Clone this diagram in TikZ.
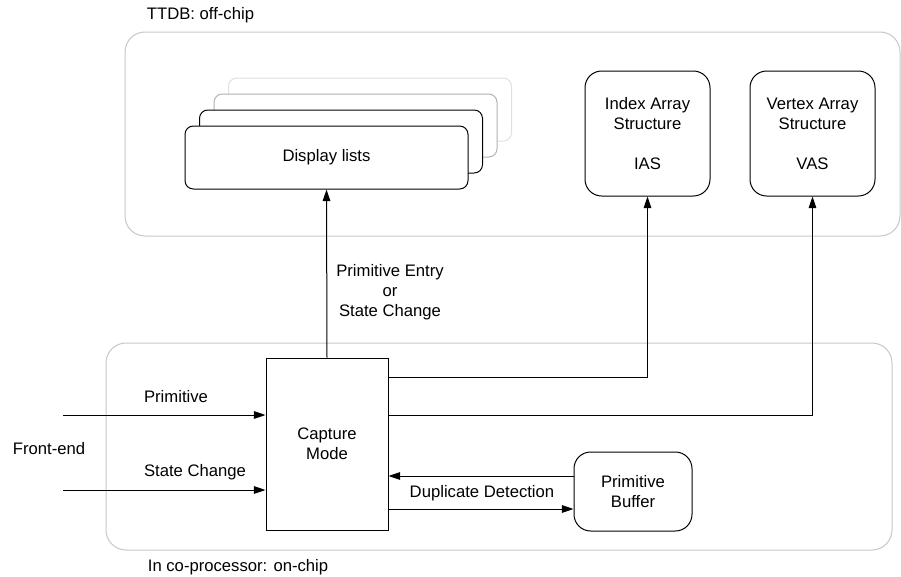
\documentclass[tikz,border=0pt]{standalone}
\usepackage{fontspec}
\setmainfont{Liberation Sans}
\usetikzlibrary{arrows.meta}

\begin{document}
\begin{tikzpicture}[x=0.6pt,y=-0.6pt,font=\fontsize{10}{12}\selectfont,
  lane/.style={draw=black!22,line width=0.6pt,rounded corners=12pt},
  dlist/.style={draw,fill=white,line width=0.6pt,rounded corners=5pt,minimum width=283*0.6pt,minimum height=63*0.6pt,inner sep=0pt},
  store/.style={draw,line width=0.6pt,rounded corners=10pt,minimum width=125*0.6pt,minimum height=125*0.6pt,align=center,inner sep=0pt},
  flow/.style={line width=0.6pt,-{Triangle[length=7pt,width=4.6pt]}},
  wire/.style={line width=0.6pt}]
\useasboundingbox (0,0) rectangle (901,577);

\def\dx{14.5}
\def\dy{-16}

% containers
\draw[lane] (125,32) rectangle (900,236);
\draw[lane] (106,343) rectangle (892,550);
\node[anchor=west] (offchip) at (141,15) {TTDB: off-chip};
\node[anchor=west] (onchip) at (142,567) {In co-processor: on-chip};

% display lists, stacked
\node[dlist,draw=black!12] (dl4) at (326.5+3*\dx,157.5+3*\dy) {};
\node[dlist,draw=black!30] (dl3) at (326.5+2*\dx,157.5+2*\dy) {};
\node[dlist] (dl2) at (326.5+\dx,157.5+\dy) {};
\node[dlist] (dl1) at (326.5,157.5) {Display lists};

\node[store] (ias) at (647.5,133.5) {Index Array\\Structure\\ \\IAS};
\node[store] (vas) at (812.5,133.5) {Vertex Array\\Structure\\ \\VAS};

\node[draw,line width=0.6pt,minimum width=122*0.6pt,minimum height=172*0.6pt,align=center] (cap) at (327,444) {Capture\\Mode};
\node[draw,line width=0.6pt,rounded corners=10pt,minimum width=118*0.6pt,minimum height=79*0.6pt,align=center,inner sep=0pt] (buf) at (633,491.5) {Primitive\\Buffer};

% front-end inputs
\node (fe) at (49,449) {Front-end};
\coordinate (in1) at (63,415);
\coordinate (in2) at (63,490);
\draw[flow] (in1) -- (in1 -| cap.west);
\draw[flow] (in2) -- (in2 -| cap.west);
\node (lprim) at (176,397) {Primitive};
\node (lstate) at (195,472) {State Change};

% to off-chip
\draw[flow] (cap.north) -- (dl1.south);
\node[align=center] (lentry) at (390,292) {Primitive Entry\\or\\State Change};
\coordinate (o1) at (388,377);
\coordinate (o2) at (388,415);
\draw[flow] (o1) -| (ias.south);
\draw[flow] (o2) -| (vas.south);

% duplicate detection
\coordinate (b1) at (574,476);
\coordinate (b2) at (388,509);
\draw[flow] (b1) -- (b1 -| cap.east);
\draw[flow] (b2) -- (b2 -| buf.west);
\node (ldup) at (482,493) {Duplicate Detection};

\end{tikzpicture}
\end{document}
